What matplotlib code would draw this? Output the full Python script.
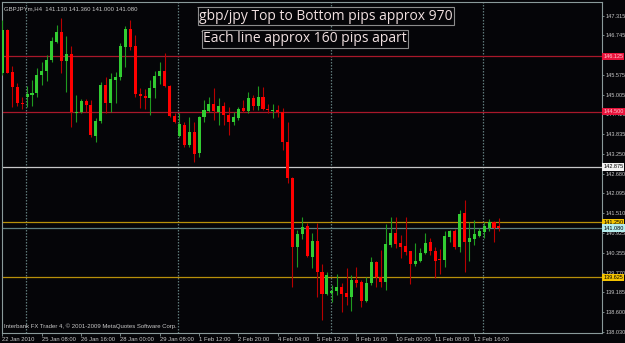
import numpy as np
import matplotlib.pyplot as plt

plt.rcParams['font.family'] = ['Liberation Sans', 'DejaVu Sans']

# GBPJPY H4 candles
opens = [145.649, 146.904, 145.678, 145.217, 144.766, 144.943, 144.992, 145.041, 145.570, 145.708,
         146.021, 146.561, 146.835, 146.002, 146.198, 144.453, 144.502, 144.815, 144.698, 143.786,
         144.227, 145.286, 144.766, 145.433, 145.511, 146.413, 146.923, 146.433, 145.021, 144.962,
         144.894, 145.188, 145.551, 145.698, 145.266, 144.374, 143.786, 144.110, 143.521, 143.913,
         143.276, 144.335, 144.531, 144.717, 144.502, 144.668, 144.404, 144.208, 144.306, 144.600,
         144.531, 144.894, 144.668, 144.923, 144.570, 144.521, 144.551, 144.501, 143.619, 142.542,
         140.530, 140.904, 141.139, 140.236, 140.698, 139.795, 139.139, 139.177, 139.227, 139.354,
         139.177, 139.042, 139.551, 139.501, 138.933, 139.454, 140.071, 139.630, 139.492, 140.580,
         140.924, 140.630, 140.551, 140.404, 140.021, 140.118, 140.336, 140.660, 140.404, 140.160,
         140.139, 140.824, 141.001, 140.530, 141.513, 140.677, 140.757, 140.854, 140.954, 141.080,
         141.266, 141.130]
highs = [147.198, 146.923, 145.845, 145.335, 144.943, 145.257, 145.433, 145.776, 145.972, 146.168,
         146.688, 147.051, 147.247, 146.727, 146.443, 144.992, 144.884, 144.864, 144.845, 144.306,
         145.384, 145.531, 145.649, 145.678, 146.531, 147.021, 147.198, 146.757, 145.188, 145.159,
         145.433, 145.708, 145.972, 146.237, 145.286, 144.453, 144.453, 144.208, 144.335, 144.208,
         144.374, 144.845, 144.943, 145.188, 144.892, 144.796, 144.649, 144.502, 144.629, 144.845,
         145.090, 144.992, 145.257, 145.217, 144.727, 144.727, 144.698, 144.601, 144.207, 142.580,
         141.021, 141.413, 141.218, 140.924, 141.236, 140.021, 139.795, 139.404, 139.718, 139.454,
         139.913, 139.698, 139.924, 139.551, 139.648, 140.236, 140.110, 140.433, 141.189, 141.395,
         141.413, 140.874, 141.413, 140.413, 140.648, 140.501, 140.924, 140.777, 140.530, 140.454,
         141.001, 141.021, 141.042, 141.610, 141.904, 141.266, 141.315, 141.071, 141.266, 141.345,
         141.286, 141.360]
lows = [145.580, 145.629, 144.649, 144.668, 144.570, 144.649, 144.668, 144.943, 145.286, 145.404,
        145.972, 146.511, 145.629, 145.090, 144.061, 144.208, 144.453, 144.502, 143.766, 143.619,
        144.159, 144.453, 144.502, 144.747, 145.433, 145.825, 146.315, 144.943, 144.600, 144.570,
        144.404, 144.894, 145.315, 145.237, 144.355, 144.178, 143.766, 143.472, 143.472, 143.031,
        143.178, 144.208, 144.502, 144.257, 144.110, 144.110, 143.815, 144.110, 144.257, 144.502,
        144.453, 144.551, 144.551, 144.551, 144.453, 144.316, 144.345, 143.374, 142.395, 139.354,
        139.942, 140.748, 140.218, 139.895, 139.060, 138.374, 139.110, 138.912, 139.110, 138.618,
        138.815, 138.648, 139.354, 138.748, 138.904, 139.404, 139.336, 139.354, 139.257, 140.530,
        140.483, 140.189, 140.286, 139.433, 139.971, 140.089, 140.315, 140.286, 139.601, 139.727,
        139.942, 140.677, 140.454, 140.383, 139.777, 140.118, 140.580, 140.825, 140.777, 140.992,
        140.677, 141.000]
closes = [146.904, 145.649, 145.217, 144.747, 144.727, 145.011, 145.061, 145.580, 145.708, 146.021,
          146.590, 146.845, 146.002, 146.198, 144.502, 144.502, 144.815, 144.698, 143.815, 144.227,
          145.286, 144.766, 145.453, 145.511, 146.443, 146.923, 146.394, 145.021, 144.962, 144.894,
          145.208, 145.551, 145.698, 145.266, 144.374, 144.208, 144.129, 143.521, 143.913, 143.257,
          144.335, 144.551, 144.717, 144.521, 144.668, 144.404, 144.208, 144.355, 144.570, 144.531,
          144.894, 144.668, 144.923, 144.570, 144.551, 144.565, 144.492, 143.619, 142.542, 140.530,
          140.895, 141.101, 140.257, 140.698, 139.795, 139.139, 139.698, 139.218, 139.354, 139.139,
          139.042, 139.551, 139.471, 138.933, 139.471, 140.071, 139.630, 139.492, 140.601, 140.924,
          140.610, 140.530, 140.383, 140.021, 140.118, 140.345, 140.630, 140.404, 140.118, 140.148,
          140.845, 141.001, 140.530, 141.492, 140.677, 140.777, 140.904, 141.001, 141.139, 141.266,
          141.089, 141.080]

time_labels = ["22 Jan 2010", "25 Jan 08:00", "26 Jan 16:00", "28 Jan 00:00", "29 Jan 08:00",
               "1 Feb 12:00", "2 Feb 20:00", "4 Feb 04:00", "5 Feb 12:00", "8 Feb 16:00",
               "10 Feb 00:00", "11 Feb 08:00", "12 Feb 16:00"]
week_starts = [5, 36, 67, 98]
price_ticks = [147.315, 146.745, 145.575, 145.005, 144.420, 143.835, 143.250, 142.680,
               142.095, 141.510, 140.925, 140.355, 139.770, 139.185, 138.600, 138.030]
# drawn horizontal levels, 1.625 apart
levels = [146.125, 144.500, 142.875, 141.250, 139.625]
level_colors = ['#a8182a', '#a8182a', '#c8c8c8', '#b8900a', '#b8900a']
box_colors = ['#e8143c', '#e8143c', '#f2f2f2', '#f5c400', '#f5c400']
box_text = ['#ffc8d0', '#ffc8d0', '#000000', '#000000', '#000000']

bg = '#050508'
axcol = '#8a9a9a'
txtcol = '#c8c8c8'
small = 4.0

fig = plt.figure(figsize=(6.25, 3.43), dpi=100, facecolor=bg)
ax = fig.add_axes([2/625, 10/343, 600/625, 331/343])
ax.set_facecolor(bg)

o = np.array(opens); h = np.array(highs); l = np.array(lows); c = np.array(closes)
x = np.arange(len(o))
up = c >= o
wick_col = np.where(up, '#1f9a1f', '#b80000')
body_col = np.where(up, '#32cd32', '#ff0000')

ax.vlines(x, l, h, colors=wick_col, linewidth=0.8, zorder=3)
ax.bar(x, np.maximum(np.abs(c - o), 0.012), bottom=np.minimum(o, c), width=0.62,
       color=body_col, linewidth=0, zorder=4)

for s in week_starts:
    ax.axvline(s - 0.22, color='#5f7a7a', lw=0.9, ls=(0, (1.2, 1.2)), zorder=1)

for v, lc in zip(levels, level_colors):
    ax.axhline(v, color=lc, lw=0.9, zorder=2)
ax.axhline(c[-1], color='#5f8080', lw=0.9, zorder=2)

ax.set_xlim(-0.1, 121.97)
ax.set_ylim(137.992, 147.727)

ax.yaxis.tick_right()
ax.set_yticks(price_ticks)
ax.set_yticklabels([f"{v:.3f}" for v in price_ticks])
ax.set_xticks(np.arange(len(time_labels)) * 8)
ax.set_xticklabels(time_labels)
for t in ax.get_xticklabels():
    t.set_ha('left')
ax.tick_params(axis='y', color=axcol, labelcolor=txtcol, labelsize=small, length=1.5, width=0.6, pad=0.8)
ax.tick_params(axis='x', color=axcol, labelcolor=txtcol, labelsize=small + 0.2, length=2.5, width=0.6, pad=0.5)
for sp in ax.spines.values():
    sp.set_color(axcol)
    sp.set_linewidth(0.8)

# price labels for the lines
tr = ax.get_yaxis_transform()
for v, bc, tc in zip(levels + [c[-1]], box_colors + ['#b4ecec'], box_text + ['#000000']):
    ax.text(1.002, v, f"{v:.3f}", transform=tr, ha='left', va='center', fontsize=small,
            color=tc, clip_on=False, zorder=6,
            bbox=dict(boxstyle='square,pad=0.2', fc=bc, ec='none'))

ax.text(0.004, 0.988, f"GBPJPYm,H4  {o[-1]:.3f} {h[-1]:.3f} {l[-1]:.3f} {c[-1]:.3f}",
        transform=ax.transAxes, ha='left', va='top', fontsize=small + 0.3, color=txtcol)
ax.text(0.003, 0.012, "Interbank FX Trader 4, \u00a9 2001-2009 MetaQuotes Software Corp.",
        transform=ax.transAxes, ha='left', va='bottom', fontsize=small + 0.3, color=txtcol)

# user comments
for txt, px, py in [("gbp/jpy Top to Bottom pips approx 970", 199, 16),
                    ("Each line approx 160 pips apart", 203, 39)]:
    fig.text(px/625, 1 - py/343, txt, ha='left', va='center', fontsize=10,
             family='Open Sans', color='#f0e0e0',
             bbox=dict(boxstyle='square,pad=0.1', fc=bg, ec='#8c8c8c', lw=0.8))
    fig.text((px - 2)/625, 1 - (py - 9)/343, '.', color='#e0e0e0', fontsize=5,
             ha='center', va='center')

fig.savefig('out.png', dpi=100, facecolor=bg)
